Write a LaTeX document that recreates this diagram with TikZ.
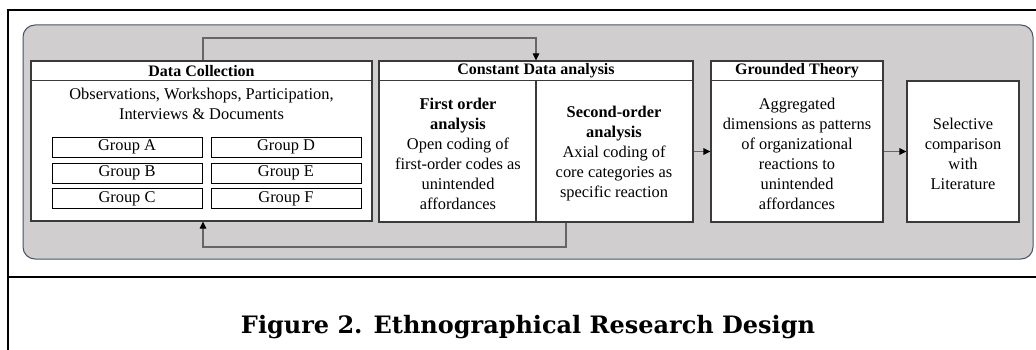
\documentclass[tikz,border=0pt]{standalone}
\usepackage{fontspec}
\setmainfont{Liberation Serif}
\newfontfamily\capfont{DejaVu Serif}
\usetikzlibrary{arrows.meta,calc}
\definecolor{panelfill}{HTML}{D0CECE}
\definecolor{paneldraw}{HTML}{44546A}
\definecolor{boxdraw}{HTML}{3A3A3A}
\definecolor{fbline}{HTML}{666666}
\begin{document}
\begin{tikzpicture}[x=1pt,y=-1pt,
  txt/.style={font=\fontsize{16.4}{20}\selectfont, align=center, inner sep=0pt},
  hdr/.style={font=\fontsize{16}{20}\selectfont\bfseries, inner sep=0pt},
  stagebox/.style={draw=boxdraw, fill=white, line width=1.2pt, inner sep=0pt},
  groupbox/.style={draw=black, fill=white, line width=0.9pt, inner sep=0pt,
    minimum width=150, minimum height=20, font=\fontsize{16.4}{20}\selectfont},
  arr/.style={draw=fbline, line width=1.2pt, -{Triangle[length=7pt,width=6.5pt,color=black]}},
  fb/.style={draw=fbline, line width=1.2pt, -{Triangle[length=7pt,width=6.5pt,color=black]}}
]
\useasboundingbox (0,0) rectangle (1036,350);
\fill[white] (0,0) rectangle (1036,350);

% outer frame
\draw[line width=2.2pt] (8,351) -- (8,10) -- (1037,10);
\draw[line width=2.2pt] (8,277) -- (1037,277);

% panel
\node[draw=paneldraw, fill=panelfill, line width=1pt, rounded corners=12pt,
  minimum width=1010, minimum height=234, inner sep=0pt] (panel) at (528,142) {};

% stage boxes
\node[stagebox, minimum width=341, minimum height=160] (dc) at (201.5,141) {};
\node[stagebox, minimum width=314, minimum height=161] (cda) at (536,141.5) {};
\node[stagebox, minimum width=172, minimum height=161] (gt) at (797,141.5) {};
\node[stagebox, minimum width=112, minimum height=141] (sel) at (963,151.5) {};

% header lines and divider
\draw[boxdraw, line width=1.2pt] ($(dc.north west)+(0,20)$) -- ($(dc.north east)+(0,20)$);
\draw[boxdraw, line width=1.2pt] ($(cda.north west)+(0,20)$) -- ($(cda.north east)+(0,20)$);
\draw[boxdraw, line width=1.2pt] ($(gt.north west)+(0,20)$) -- ($(gt.north east)+(0,20)$);
\draw[boxdraw, line width=1.2pt] ($(cda.north)+(0,20)$) -- (cda.south);

% headers
\node[hdr] (dch) at ($(dc.north)+(0,10.5)$) {Data Collection};
\node[hdr] (cdah) at ($(cda.north)+(0,10.5)$) {Constant Data analysis};
\node[hdr] (gth) at ($(gt.north)+(0,10.5)$) {Grounded Theory};

% data collection body
\node[txt] (dctext) at (201.5,103.5) {Observations, Workshops, Participation,\\Interviews \& Documents};
\node[groupbox] (ga) at (127,147) {Group A};
\node[groupbox] (gd) at (286,147) {Group D};
\node[groupbox] (gb) at (127,173) {Group B};
\node[groupbox] (ge) at (286,173) {Group E};
\node[groupbox] (gc) at (127,198.5) {Group C};
\node[groupbox] (gf) at (286,198.5) {Group F};

% analysis texts
\node[txt] (first) at (458,153.5) {\textbf{First order}\\\textbf{analysis}\\Open coding of\\first-order codes as\\unintended\\affordances};
\node[txt] (second) at (614,153.5) {\textbf{Second-order}\\\textbf{analysis}\\Axial coding of\\core categories as\\specific reaction};
\node[txt] (gttext) at (797,153.5) {Aggregated\\dimensions as patterns\\of organizational\\reactions to\\unintended\\affordances};
\node[txt] (seltext) at (963,153.5) {Selective\\comparison\\with\\Literature};

% forward arrows
\draw[arr] (cda.east |- sel.center) -- (gt.west |- sel.center);
\draw[arr] (gt.east |- sel.center) -- (sel.west);

% feedback loops
\coordinate (topl) at (203,38);
\coordinate (topr) at (536,38);
\draw[fb] (dc.north -| topl) -- (topl) -- (topr) -- (cda.north);
\coordinate (botr) at (566,247);
\coordinate (botl) at (203,247);
\draw[fb] (cda.south -| botr) -- (botr) -- (botl) -- (dc.south -| botl);

% caption
\node[anchor=base, inner sep=0pt] (caption) at (528,333)
  {\resizebox{574pt}{!}{\capfont\bfseries\fontsize{22}{26}\selectfont Figure 2. Ethnographical Research Design}};
\end{tikzpicture}
\end{document}
